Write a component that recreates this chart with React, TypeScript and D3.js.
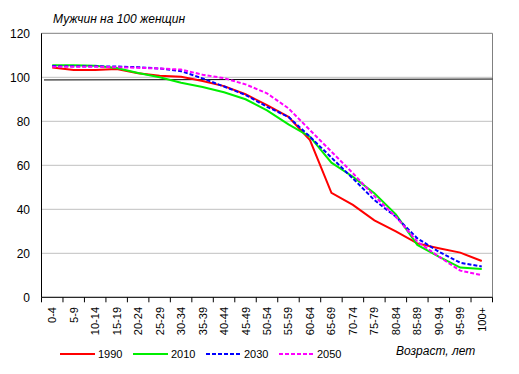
import React from "react";
import * as d3 from "d3";

const categories = ["0-4","5-9","10-14","15-19","20-24","25-29","30-34","35-39","40-44","45-49","50-54","55-59","60-64","65-69","70-74","75-79","80-84","85-89","90-94","95-99","100+"];
const s1990 = [104.5,103.3,103.3,103.8,101.8,100.7,100.2,98.3,96,92.3,87.4,82,71.5,47.5,42,35,30,24.5,22.3,20.3,16.5];
const s2010 = [105.5,105.5,105.2,104.2,102,100,97.5,95.6,93.2,90,85,78.6,73,61.2,54.8,47.3,37.7,23.8,18.5,13.5,12.9];
const s2030 = [105.1,105,105,104.9,104.6,104,102.8,99.5,95.8,92,86.6,82,73,63.5,54,44.2,36.6,26.8,20.7,15.7,14];
const s2050 = [104.8,104.8,104.8,104.6,104.3,104,103.5,101.2,99.6,96.8,92.7,85.9,76,66.2,56.4,46,36.6,25.3,18.5,12.1,10.1];
const refLine = [98.8, 99.2];
const yTicks = [0,20,40,60,80,100,120];
const seriesNames = ["1990","2010","2030","2050"];
const seriesColors = ["#ff0000","#00ee00","#0000ff","#ff00ff"];
const seriesDash = [null, null, "4,2", "4,2"];
const seriesData = [s1990, s2010, s2030, s2050];

export default function App() {
  const left = 41.5, right = 492.5, top = 33.3, bottom = 297.3;
  const x = d3.scaleBand<string>().domain(categories).range([left, right]);
  const y = d3.scaleLinear().domain([0, 120]).range([bottom, top]);
  const line = d3.line<number>()
    .x((_, i) => (x(categories[i]) as number) + x.bandwidth() / 2)
    .y((d) => y(d));
  const font = "Liberation Sans, Arial, sans-serif";
  const legendX = [60, 133, 206, 279];
  return (
    <svg width={519} height={374} style={{ position: "absolute", left: 0, top: 0 }} fontFamily={font}>
      <rect x={0} y={0} width={519} height={374} fill="#fff" />
      {yTicks.map((t) => (
        <line key={"g" + t} x1={left} x2={right} y1={y(t)} y2={y(t)} stroke={t === 120 ? "#808080" : "#c0c0c0"} strokeWidth={1} />
      ))}
      <line x1={right} x2={right} y1={top} y2={bottom} stroke="#808080" />
      <line x1={44} x2={right} y1={y(refLine[0])} y2={y(refLine[1])} stroke="#000" strokeWidth={1} />
      {yTicks.map((t) => (
        <text key={"yl" + t} x={30} y={y(t)} dy="0.35em" textAnchor="end" fontSize={12} fill="#000">{t}</text>
      ))}
      <line x1={left} x2={left} y1={top} y2={bottom} stroke="#000" />
      <line x1={left} x2={right} y1={bottom} y2={bottom} stroke="#000" />
      {categories.map((c, i) => (
        <line key={"t" + i} x1={x(c) as number} x2={x(c) as number} y1={bottom} y2={bottom + 5} stroke="#000" />
      ))}
      <line x1={right} x2={right} y1={bottom} y2={bottom + 5} stroke="#000" />
      {categories.map((c) => {
        const cx = (x(c) as number) + x.bandwidth() / 2;
        return (
          <text key={"xl" + c} transform={`translate(${cx + 4},${307}) rotate(-90)`} textAnchor="end" fontSize={11} fill="#000">{c}</text>
        );
      })}
      {seriesData.map((d, i) => (
        <path key={"s" + i} d={line(d) as string} fill="none" stroke={seriesColors[i]} strokeWidth={2} strokeDasharray={seriesDash[i] || undefined} />
      ))}
      <text x={53} y={23} fontSize={12} fontStyle="italic" fill="#000">Мужчин на 100 женщин</text>
      {seriesNames.map((n, i) => (
        <g key={"lg" + n}>
          <line x1={legendX[i]} x2={legendX[i] + 35} y1={354} y2={354} stroke={seriesColors[i]} strokeWidth={2} strokeDasharray={seriesDash[i] || undefined} />
          <text x={legendX[i] + 38} y={354} dy="0.35em" fontSize={11} fill="#000">{n}</text>
        </g>
      ))}
      <text x={396} y={355} fontSize={12} fontStyle="italic" fill="#000">Возраст, лет</text>
    </svg>
  );
}
